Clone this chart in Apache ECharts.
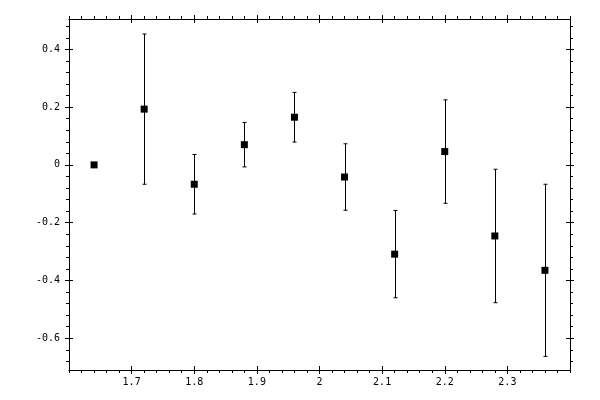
<!DOCTYPE html>
<html>
<head>
<meta charset="utf-8">
<script src="https://cdn.jsdelivr.net/npm/echarts@6/dist/echarts.min.js"></script>
<style>
  html, body { margin: 0; padding: 0; background: #fff; }
  #chart { width: 600px; height: 400px; }
</style>
</head>
<body>
<div id="chart"></div>
<script>
// measured points, with symmetric error
var xValues = [1.64, 1.72, 1.80, 1.88, 1.96, 2.04, 2.12, 2.20, 2.28, 2.36];
var yValues = [0.000, 0.193, -0.067, 0.070, 0.165, -0.042, -0.309, 0.046, -0.246, -0.365];
var yErrors = [0.000, 0.260, 0.103, 0.077, 0.086, 0.115, 0.151, 0.179, 0.231, 0.298];

// axis ticks
var xTicks = [1.7, 1.8, 1.9, 2, 2.1, 2.2, 2.3];
var yTicks = [-0.6, -0.4, -0.2, 0, 0.2, 0.4];
var xMinorStep = 0.02;
var yMinorStep = 0.04;

var xMin = 1.6, xMax = 2.4;
var yMin = -0.71, yMax = 0.505;

gerarGrafico();

function minorValues(min, max, step, majors) {
  var out = [];
  var start = Math.ceil(min / step - 1e-9);
  for (var k = start; k * step <= max + 1e-9; k++) {
    var v = +(k * step).toFixed(4);
    var isMajor = majors.some(function (m) { return Math.abs(m - v) < 1e-6; });
    if (!isMajor) out.push(v);
  }
  return out;
}

function gerarGrafico() {
  var dom = document.getElementById('chart');
  var myChart = echarts.init(dom, null, { renderer: 'canvas' });

  var xMinor = minorValues(xMin, xMax, xMinorStep, xTicks);
  var yMinor = minorValues(yMin, yMax, yMinorStep, yTicks);

  var labelStyle = { color: '#000', fontFamily: 'DejaVu Sans Mono', fontSize: 10 };
  var lineStyle = { color: '#000', width: 1 };

  function makeX(pos, kind) {
    var a = {
      type: 'value', position: pos, min: xMin, max: xMax,
      splitLine: { show: false },
      axisLine: { show: kind === 'major', onZero: false, lineStyle: lineStyle },
      axisLabel: { show: false },
      axisTick: { show: true, lineStyle: lineStyle }
    };
    if (kind === 'major') {
      a.axisTick.customValues = xTicks; a.axisTick.length = 4;
      if (pos === 'bottom') {
        a.axisLabel = { show: true, customValues: xTicks, margin: 7, color: labelStyle.color,
          fontFamily: labelStyle.fontFamily, fontSize: labelStyle.fontSize };
      }
    } else if (kind === 'inner') {
      a.axisTick.customValues = xTicks; a.axisTick.length = 4; a.axisTick.inside = true;
    } else {
      a.axisTick.customValues = xMinor; a.axisTick.length = 3;
    }
    return a;
  }

  function makeY(pos, kind) {
    var a = {
      type: 'value', position: pos, min: yMin, max: yMax,
      splitLine: { show: false },
      axisLine: { show: kind === 'major', onZero: false, lineStyle: lineStyle },
      axisLabel: { show: false },
      axisTick: { show: true, lineStyle: lineStyle }
    };
    if (kind === 'major') {
      a.axisTick.customValues = yTicks; a.axisTick.length = 4;
      if (pos === 'left') {
        a.axisLabel = { show: true, customValues: yTicks, margin: 9, color: labelStyle.color,
          fontFamily: labelStyle.fontFamily, fontSize: labelStyle.fontSize };
      }
    } else if (kind === 'inner') {
      a.axisTick.customValues = yTicks; a.axisTick.length = 4; a.axisTick.inside = true;
    } else {
      a.axisTick.customValues = yMinor; a.axisTick.length = 3;
    }
    return a;
  }

  var points = xValues.map(function (x, i) { return [x, yValues[i]]; });
  var bars = xValues.map(function (x, i) {
    return [x, yValues[i] - yErrors[i], yValues[i] + yErrors[i]];
  });

  var option = {
    animation: false,
    backgroundColor: '#fff',
    grid: { left: 69, right: 30, top: 19, bottom: 30, containLabel: false },
    xAxis: [
      makeX('bottom', 'major'), makeX('bottom', 'inner'), makeX('bottom', 'minor'),
      makeX('top', 'major'), makeX('top', 'inner'), makeX('top', 'minor')
    ],
    yAxis: [
      makeY('left', 'major'), makeY('left', 'inner'), makeY('left', 'minor'),
      makeY('right', 'major'), makeY('right', 'inner'), makeY('right', 'minor')
    ],
    series: [
      {
        type: 'custom',
        xAxisIndex: 0, yAxisIndex: 0,
        data: bars,
        renderItem: function (params, api) {
          var lo = api.coord([api.value(0), api.value(1)]);
          var hi = api.coord([api.value(0), api.value(2)]);
          if (Math.abs(hi[1] - lo[1]) < 1) return null;
          var x = Math.round(lo[0]) + 0.5;
          var cap = 2;
          var st = { stroke: '#000', lineWidth: 1, fill: null };
          return {
            type: 'group',
            children: [
              { type: 'line', shape: { x1: x, y1: hi[1], x2: x, y2: lo[1] }, style: st },
              { type: 'line', shape: { x1: x - cap, y1: hi[1], x2: x + cap, y2: hi[1] }, style: st },
              { type: 'line', shape: { x1: x - cap, y1: lo[1], x2: x + cap, y2: lo[1] }, style: st }
            ]
          };
        },
        z: 2
      },
      {
        type: 'scatter',
        xAxisIndex: 0, yAxisIndex: 0,
        data: points,
        symbol: 'rect',
        symbolSize: 7,
        itemStyle: { color: '#000', opacity: 1 },
        z: 3
      }
    ]
  };

  myChart.setOption(option);
  window.addEventListener('resize', myChart.resize);
}
</script>
</body>
</html>
